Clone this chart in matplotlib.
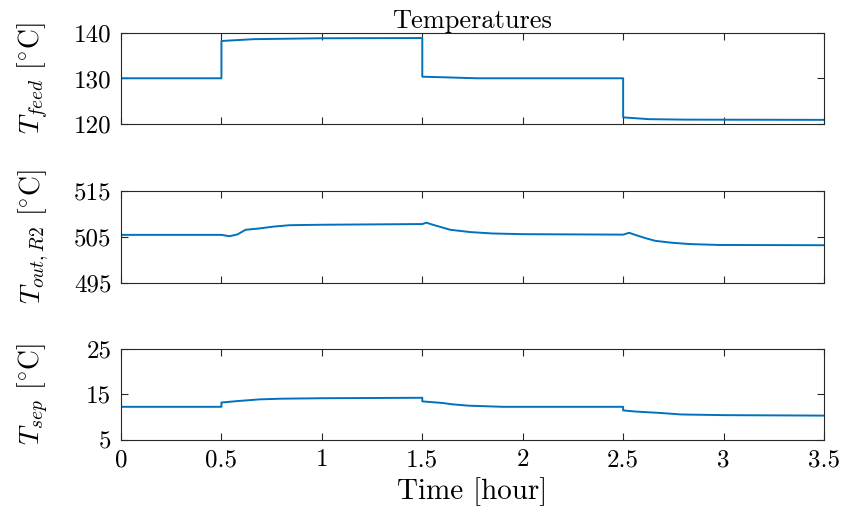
import matplotlib
matplotlib.use("Agg")
import matplotlib.pyplot as plt

plt.rcParams['font.family'] = 'serif'
plt.rcParams['font.serif'] = ['cmr10']
plt.rcParams['mathtext.fontset'] = 'cm'
plt.rcParams['axes.formatter.use_mathtext'] = True

# Data (time in hours)
t_feed = [0.0, 0.5, 0.5, 0.66, 0.99, 1.5, 1.5, 1.62, 1.77, 2.5, 2.5, 2.63, 2.81, 3.5]
T_feed = [130.05, 130.05, 138.3, 138.7, 138.9, 138.95, 130.4, 130.25, 130.05, 130.05, 121.4, 121.0, 120.9, 120.85]

t_out = [0.0, 0.5, 0.54, 0.58, 0.62, 0.69, 0.76, 0.84, 1.0, 1.5, 1.52, 1.56, 1.6, 1.64, 1.74, 1.85, 2.0, 2.5, 2.53,
         2.56, 2.61, 2.66, 2.74, 2.83, 2.98, 3.5]
T_out = [505.4, 505.4, 505.1, 505.5, 506.5, 506.8, 507.2, 507.5, 507.6, 507.75, 508.05, 507.5, 507.0, 506.5, 506.0,
         505.7, 505.55, 505.45, 505.85, 505.4, 504.7, 504.1, 503.7, 503.4, 503.2, 503.15]

t_sep = [0.0, 0.5, 0.5, 0.575, 0.69, 0.8, 1.0, 1.5, 1.5, 1.6, 1.65, 1.73, 1.9, 2.5, 2.5, 2.56, 2.68, 2.79, 3.0, 3.5]
T_sep = [12.25, 12.25, 13.2, 13.5, 13.9, 14.05, 14.15, 14.25, 13.45, 13.1, 12.8, 12.5, 12.25, 12.25, 11.45, 11.2,
         10.9, 10.55, 10.4, 10.3]

xticks = [0, 0.5, 1, 1.5, 2, 2.5, 3, 3.5]
xticklabels = ['0', '0.5', '1', '1.5', '2', '2.5', '3', '3.5']

W, H = 843, 521
fig = plt.figure(figsize=(W / 100, H / 100), dpi=100)

left = 121 / W
width = (824 - 121) / W
boxes = [(33.3, 123.7), (190.7, 282.7), (349.3, 439.5)]
series = [(t_feed, T_feed, (120, 140), [120, 130, 140], r'$T_{feed}$ [$^{\circ}$C]'),
          (t_out, T_out, (495, 515), [495, 505, 515], r'$T_{out,R2}$ [$^{\circ}$C]'),
          (t_sep, T_sep, (5, 25), [5, 15, 25], r'$T_{sep}$ [$^{\circ}$C]')]

color = '#0072BD'
edge = '#262626'
axes = []
for (top, bot), (tx, ty, ylim, yt, lab) in zip(boxes, series):
    ax = fig.add_axes([left, 1 - bot / H, width, (bot - top) / H])
    ax.plot(tx, ty, color=color, lw=1.4)
    ax.set_xlim(0, 3.5)
    ax.set_ylim(*ylim)
    ax.set_yticks(yt)
    ax.set_yticklabels([str(v) for v in yt])
    ax.set_xticks(xticks)
    ax.tick_params(direction='in', length=5, width=0.8, top=True, right=True,
                   labelsize=18, colors=edge, labelcolor='black', pad=7)
    for s in ax.spines.values():
        s.set_color(edge)
        s.set_linewidth(0.8)
    ax.set_ylabel(lab, fontsize=20)
    axes.append(ax)

axes[0].set_xticklabels([])
axes[1].set_xticklabels([])
axes[2].set_xticklabels(xticklabels)
axes[2].set_xlabel('Time [hour]', fontsize=21, labelpad=4)
axes[0].set_title('Temperatures', fontsize=19, pad=2)

for ax in axes:
    ax.yaxis.set_label_coords(-0.1, 0.5)

fig.savefig('out.png', dpi=100)
